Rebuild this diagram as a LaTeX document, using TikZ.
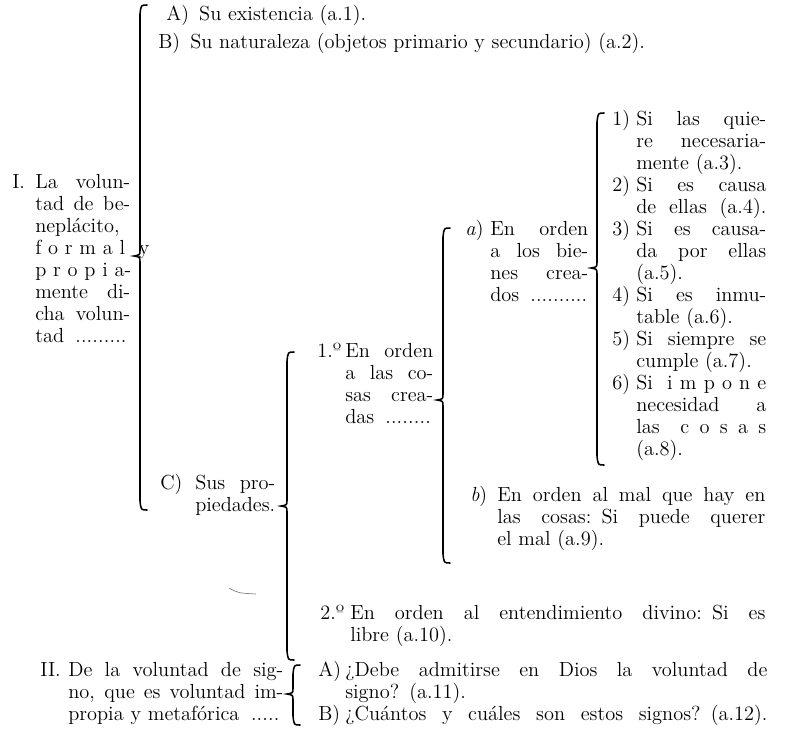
\documentclass[tikz,border=0pt]{standalone}
\usepackage{fontspec}
\usepackage{tikz}
% una linea justificada al ancho de la columna
\newcommand\jl[1]{\leavevmode\hbox to\hsize{\spaceskip=.333em plus 1fil\relax #1}}
% puntos hasta el final de la linea
\newcommand\dts{\leaders\hbox to .28em{\hss.\hss}\hfill\kern0pt}
% llave: x, arriba, punta, abajo
\newcommand\brc[4]{%
  \draw[brk] (#1+7,#2) .. controls (#1+1,#2) .. (#1,#2+9) -- (#1,#3-6)
    .. controls (#1,#3-1) .. (#1-6,#3) .. controls (#1,#3+1) .. (#1,#3+6)
    -- (#1,#4-9) .. controls (#1+1,#4) .. (#1+7,#4);}

\begin{document}
\begin{tikzpicture}[x=0.025cm,y=-0.025cm,
  font=\fontsize{14.5}{15.65}\selectfont,
  lbl/.style={anchor=base west,inner sep=0pt},
  txt/.style={anchor=base west,inner sep=0pt,align=left},
  brk/.style={line width=1.1pt,line cap=round}]
\useasboundingbox (0,0) rectangle (786,744);
% I. voluntad de beneplacito
\node[lbl] (lI) at (12,188) {I.};
\node[txt,text width=2.375cm] (tI) at (35,188) {\jl{La volun-}\\ \jl{tad de be-}\\ neplácito,\\
  \jl{f o r m a l \ y}\\ \jl{p r o p i a-}\\ \jl{mente di-}\\ \jl{cha volun-}\\ tad \dts};
\brc{140}{5}{256}{510}
\node[lbl] (lA) at (166,20) {A)\enspace Su existencia (a.1).};
\node[lbl] (lB) at (158,48) {B)\enspace Su naturaleza (objetos primario y secundario) (a.2).};
\node[lbl] (lC) at (160,489) {C)};
\node[txt,text width=2.0cm] (tC) at (195,489) {\jl{Sus pro-}\\ piedades.};
\brc{287}{352}{506}{660}
% 1.o en orden a las cosas creadas
\node[lbl] (l1) at (317,357) {1.º};
\node[txt,text width=2.2cm] (t1) at (345,357) {\jl{En orden}\\ \jl{a las co-}\\ \jl{sas crea-}\\ das \dts};
\brc{443}{228}{400}{563}
\node[lbl] (la) at (465,235) {\textit{a})};
\node[txt,text width=2.45cm] (ta) at (490,235) {\jl{En orden}\\ \jl{a los bie-}\\ \jl{nes crea-}\\ dos \dts};
\brc{597}{113}{268}{465}
% cuestiones 1) a 6)
\node[lbl] (q1) at (612,125) {1)};
\node[txt,text width=3.25cm] (r1) at (636,125) {\jl{Si las quie-}\\ \jl{re necesaria-}\\ mente (a.3).};
\node[lbl] (q2) at (612,191) {2)};
\node[txt,text width=3.25cm] (r2) at (636,191) {\jl{Si es causa}\\ \jl{de ellas (a.4).}};
\node[lbl] (q3) at (612,235) {3)};
\node[txt,text width=3.25cm] (r3) at (636,235) {\jl{Si es causa-}\\ \jl{da por ellas}\\ (a.5).};
\node[lbl] (q4) at (612,301) {4)};
\node[txt,text width=3.25cm] (r4) at (636,301) {\jl{Si es inmu-}\\ table (a.6).};
\node[lbl] (q5) at (612,345) {5)};
\node[txt,text width=3.25cm] (r5) at (636,345) {\jl{Si siempre se}\\ cumple (a.7).};
\node[lbl] (q6) at (612,389) {6)};
\node[txt,text width=3.25cm] (r6) at (636,389) {\jl{Si \ i m p o n e}\\ \jl{necesidad a}\\ \jl{las \ c o s a s}\\ (a.8).};
\node[lbl] (lb) at (470,501) {\textit{b})};
\node[txt,text width=6.7cm] (tb) at (497,501) {\jl{En orden al mal que hay en}\\ \jl{las cosas: Si puede querer}\\ el mal (a.9).};
% 2.o en orden al entendimiento
\node[lbl] (l2) at (320,619) {2.º};
\node[txt,text width=10.375cm] (t2) at (350,619) {\jl{En orden al entendimiento divino: Si es}\\ libre (a.10).};
\draw[gray,line width=0.5pt] (229,588) .. controls (238,593) .. (256,594);
% II. voluntad de signo
\node[lbl] (lII) at (40,676) {II.};
\node[txt,text width=5.375cm] (tII) at (68,676) {\jl{De la voluntad de sig-}\\ \jl{no, que es voluntad im-}\\ propia y metafórica \dts};
\brc{293}{665}{694}{725}
\node[lbl] (lIIA) at (318,676) {A)};
\node[txt,text width=10.55cm] (tIIA) at (345,676) {\jl{¿Debe admitirse en Dios la voluntad de}\\ signo? (a.11).};
\node[lbl] (lIIB) at (318,720) {B)};
\node[txt,text width=10.55cm] (tIIB) at (345,720) {\jl{¿Cuántos y cuáles son estos signos? (a.12).}};
\end{tikzpicture}
\end{document}
